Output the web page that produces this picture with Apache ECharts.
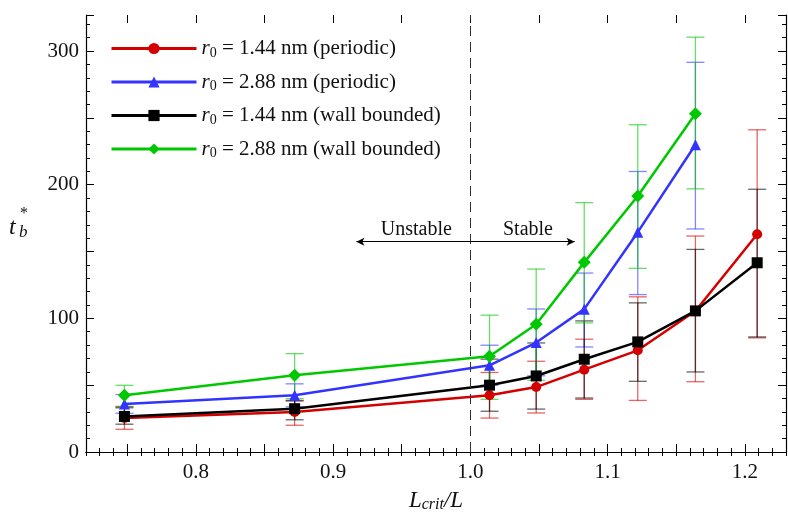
<!DOCTYPE html>
<html>
<head>
<meta charset="utf-8">
<script src="https://cdn.jsdelivr.net/npm/echarts@6/dist/echarts.min.js"></script>
<style>
  html, body { margin: 0; padding: 0; background: #fff; }
  #main { width: 788px; height: 513px; }
</style>
</head>
<body>
<div id="main"></div>
<script>
// L_crit/L positions of the runs
var xValues = [0.748, 0.872, 1.014, 1.048, 1.083, 1.122, 1.164, 1.209];

// r0 = 1.44 nm (periodic)
var redMean = [25.5, 30.0, 42.4, 48.6, 61.6, 76.1, 105.5, 162.9];
var redLow  = [17.0, 20.0, 25.4, 29.2, 39.4, 38.6, 52.6, 85.4];
var redHigh = [34.0, 38.6, 59.5, 67.9, 84.4, 116.1, 161.6, 241.1];

// r0 = 2.88 nm (periodic)
var blueMean = [36.0, 42.4, 64.9, 81.9, 106.9, 164.5, 229.9];
var blueLow  = [29.0, 33.8, 50.0, 57.0, 78.6, 117.8, 166.9];
var blueHigh = [43.0, 51.0, 79.9, 107.0, 133.9, 209.9, 291.6];

// r0 = 1.44 nm (wall bounded)
var blackMean = [26.6, 32.4, 50.0, 56.9, 69.4, 82.4, 105.6, 141.6];
var blackLow  = [20.8, 24.1, 30.5, 32.1, 40.4, 52.9, 59.9, 86.1];
var blackHigh = [33.1, 38.2, 69.5, 81.6, 98.1, 111.6, 151.6, 196.6];

// r0 = 2.88 nm (wall bounded)
var greenMean = [42.4, 57.4, 71.6, 95.6, 141.9, 191.6, 253.1];
var greenLow  = [34.1, 39.9, 39.4, 53.6, 96.6, 137.4, 196.9];
var greenHigh = [49.9, 73.6, 102.4, 136.9, 186.6, 244.9, 310.4];

var seriesNames = ['r0 = 1.44 nm (periodic)', 'r0 = 2.88 nm (periodic)',
                   'r0 = 1.44 nm (wall bounded)', 'r0 = 2.88 nm (wall bounded)'];
var legendRadius = ['1.44', '2.88', '1.44', '2.88'];
var legendKind = ['periodic', 'periodic', 'wall bounded', 'wall bounded'];

var xTickLabels = ['0.8', '0.9', '1.0', '1.1', '1.2'];
var yTickLabels = ['0', '100', '200', '300'];

// axis ranges
var xMin = 0.72, xMax = 1.23;
var xMajorMin = 0.75, xMajorMax = 1.20;
var yMin = 0, yMax = 327;

var xCrit = 1.0;           // stability limit
var arrowY = 157.4;        // height of the Unstable / Stable arrows
var arrowLeft = 0.917;
var arrowRight = 1.076;
var noteY = 166.5;

var serif = 'Liberation Serif';
var colors = ['#d40000', '#3333ff', '#000000', '#00c800'];

function pairs(ys) {
    var out = [];
    for (var i = 0; i < ys.length; i++) out.push([xValues[i], ys[i]]);
    return out;
}
function bars(lo, hi) {
    var out = [];
    for (var i = 0; i < lo.length; i++) out.push([xValues[i], lo[i], hi[i]]);
    return out;
}

// error bars drawn through the axis scales
function errorRenderer(color) {
    return function (params, api) {
        var x = api.value(0);
        var top = api.coord([x, api.value(2)]);
        var bot = api.coord([x, api.value(1)]);
        var w = 9;
        var st = { stroke: color, lineWidth: 1.3, opacity: 0.6 };
        return {
            type: 'group',
            children: [
                { type: 'line', shape: { x1: top[0], y1: top[1], x2: bot[0], y2: bot[1] }, style: st },
                { type: 'line', shape: { x1: top[0] - w, y1: top[1], x2: top[0] + w, y2: top[1] }, style: st },
                { type: 'line', shape: { x1: bot[0] - w, y1: bot[1], x2: bot[0] + w, y2: bot[1] }, style: st }
            ]
        };
    };
}

var myChart = echarts.init(document.getElementById('main'));

var W = 788;
var grid = { left: 86, right: 2, top: 15, bottom: 61, outerBoundsMode: 'none', containLabel: false };
var plotW = W - grid.left - grid.right;
// second grid only carries the long x ticks (multiples of 0.05)
var gridMajor = {
    left: grid.left + (xMajorMin - xMin) / (xMax - xMin) * plotW,
    right: grid.right + (xMax - xMajorMax) / (xMax - xMin) * plotW,
    top: grid.top,
    bottom: grid.bottom,
    outerBoundsMode: 'none',
    containLabel: false
};

var tickFont = { fontFamily: serif, fontSize: 21, color: '#111' };
var axisLineStyle = { color: '#000', width: 1.2 };
var tickLine = { color: '#000', width: 1 };

function xLabel(v) {
    var s = v.toFixed(1);
    return (Math.abs(v * 10 - Math.round(v * 10)) < 1e-6 && xTickLabels.indexOf(s) >= 0) ? s : '';
}
function yLabel(v) {
    var s = String(Math.round(v));
    return (Math.abs(v - Math.round(v)) < 1e-6 && yTickLabels.indexOf(s) >= 0) ? s : '';
}

var option = {
    animation: false,
    backgroundColor: '#fff',
    grid: [grid, gridMajor],
    legend: {
        orient: 'vertical',
        left: 105,
        top: 33,
        itemWidth: 85,
        itemHeight: 14,
        itemGap: 11.5,
        data: seriesNames,
        lineStyle: { width: 3 },
        formatter: function (name) {
            var i = seriesNames.indexOf(name);
            return '{it|r}{sub|0}{n| = ' + legendRadius[i] + ' nm (' + legendKind[i] + ')}';
        },
        textStyle: {
            fontFamily: serif,
            fontSize: 21,
            color: '#111',
            rich: {
                it: { fontFamily: serif, fontSize: 21, fontStyle: 'italic', color: '#111' },
                sub: { fontFamily: serif, fontSize: 14, color: '#111', padding: [9, 0, 0, 0] },
                n: { fontFamily: serif, fontSize: 21, color: '#111' }
            }
        }
    },
    xAxis: [{
        type: 'value', gridIndex: 0,
        min: xMin, max: xMax, interval: 0.01,
        axisLine: { lineStyle: axisLineStyle },
        axisTick: { inside: true, length: 4, lineStyle: tickLine },
        splitLine: { show: false },
        axisLabel: { show: false },
        name: '{i|L}{sub|crit}{i|/L}',
        nameLocation: 'middle',
        nameGap: 36,
        nameMoveOverlap: false,
        nameTextStyle: {
            rich: {
                i: { fontFamily: serif, fontSize: 23, fontStyle: 'italic', color: '#111' },
                sub: { fontFamily: serif, fontSize: 16, fontStyle: 'italic', color: '#111', padding: [9, 0, 0, 0] }
            }
        }
    }, {
        type: 'value', gridIndex: 0, position: 'top',
        min: xMin, max: xMax, interval: 0.01,
        axisLine: { lineStyle: axisLineStyle },
        axisTick: { inside: true, length: 4, lineStyle: tickLine },
        splitLine: { show: false },
        axisLabel: { show: false }
    }, {
        type: 'value', gridIndex: 1,
        min: xMajorMin, max: xMajorMax, interval: 0.05,
        axisLine: { show: false },
        axisTick: { inside: true, length: 8, lineStyle: tickLine },
        splitLine: { show: false },
        axisLabel: Object.assign({ margin: 10, formatter: xLabel }, tickFont)
    }, {
        type: 'value', gridIndex: 1, position: 'top',
        min: xMajorMin, max: xMajorMax, interval: 0.05,
        axisLine: { show: false },
        axisTick: { inside: true, length: 8, lineStyle: tickLine },
        splitLine: { show: false },
        axisLabel: { show: false }
    }],
    yAxis: [{
        type: 'value', gridIndex: 0,
        min: yMin, max: yMax, interval: 50,
        axisLine: { show: true, lineStyle: axisLineStyle },
        axisTick: { show: true, inside: true, length: 8, lineStyle: tickLine },
        minorTick: { show: true, splitNumber: 5, length: 4, lineStyle: tickLine },
        splitLine: { show: false },
        axisLabel: Object.assign({ margin: 7, formatter: yLabel }, tickFont)
    }, {
        type: 'value', gridIndex: 0, position: 'right',
        min: yMin, max: yMax, interval: 50,
        axisLine: { show: true, lineStyle: axisLineStyle },
        axisTick: { show: true, inside: true, length: 8, lineStyle: tickLine },
        minorTick: { show: true, splitNumber: 5, length: 4, lineStyle: tickLine },
        splitLine: { show: false },
        axisLabel: { show: false }
    }, {
        type: 'value', gridIndex: 1, show: false,
        min: yMin, max: yMax
    }],
    graphic: [
        { type: 'text', left: 9, top: 216, style: { text: 't', font: 'italic 24px "Liberation Serif"', fill: '#111' } },
        { type: 'text', left: 20, top: 206, style: { text: '*', font: '16px "Liberation Serif"', fill: '#111' } },
        { type: 'text', left: 19, top: 224, style: { text: 'b', font: 'italic 17px "Liberation Serif"', fill: '#111' } }
    ],
    series: [
        { type: 'custom', name: 'err0', renderItem: errorRenderer(colors[0]), data: bars(redLow, redHigh), z: 1, silent: true },
        { type: 'custom', name: 'err1', renderItem: errorRenderer(colors[1]), data: bars(blueLow, blueHigh), z: 1, silent: true },
        { type: 'custom', name: 'err2', renderItem: errorRenderer(colors[2]), data: bars(blackLow, blackHigh), z: 1, silent: true },
        { type: 'custom', name: 'err3', renderItem: errorRenderer(colors[3]), data: bars(greenLow, greenHigh), z: 1, silent: true },
        {
            type: 'line', name: seriesNames[0], data: pairs(redMean), z: 3,
            symbol: 'circle', symbolSize: 10,
            lineStyle: { color: colors[0], width: 2.5 }, itemStyle: { color: colors[0] },
            markLine: {
                silent: true, symbol: 'none', label: { show: false },
                lineStyle: { color: '#333', type: [10, 6], width: 1 },
                data: [{ xAxis: xCrit }]
            }
        },
        {
            type: 'line', name: seriesNames[1], data: pairs(blueMean), z: 3,
            symbol: 'triangle', symbolSize: 11,
            lineStyle: { color: colors[1], width: 2.5 }, itemStyle: { color: colors[1] }
        },
        {
            type: 'line', name: seriesNames[2], data: pairs(blackMean), z: 3,
            symbol: 'rect', symbolSize: 11,
            lineStyle: { color: colors[2], width: 2.5 }, itemStyle: { color: colors[2] },
            markLine: {
                silent: true, symbol: ['none', 'arrow'], symbolSize: [6, 8],
                label: { show: false },
                lineStyle: { color: '#000', type: 'solid', width: 1 },
                data: [
                    [{ coord: [xCrit, arrowY] }, { coord: [arrowLeft, arrowY] }],
                    [{ coord: [xCrit, arrowY] }, { coord: [arrowRight, arrowY] }]
                ]
            },
            markPoint: {
                silent: true, symbol: 'circle', symbolSize: 0,
                label: { show: true, fontFamily: serif, fontSize: 20, color: '#111', formatter: '{b}' },
                data: [
                    { name: 'Unstable', coord: [0.9607, noteY] },
                    { name: 'Stable', coord: [1.042, noteY] }
                ]
            }
        },
        {
            type: 'line', name: seriesNames[3], data: pairs(greenMean), z: 3,
            symbol: 'diamond', symbolSize: 13,
            lineStyle: { color: colors[3], width: 2.5 }, itemStyle: { color: colors[3] }
        }
    ]
};

myChart.setOption(option);
</script>
</body>
</html>
